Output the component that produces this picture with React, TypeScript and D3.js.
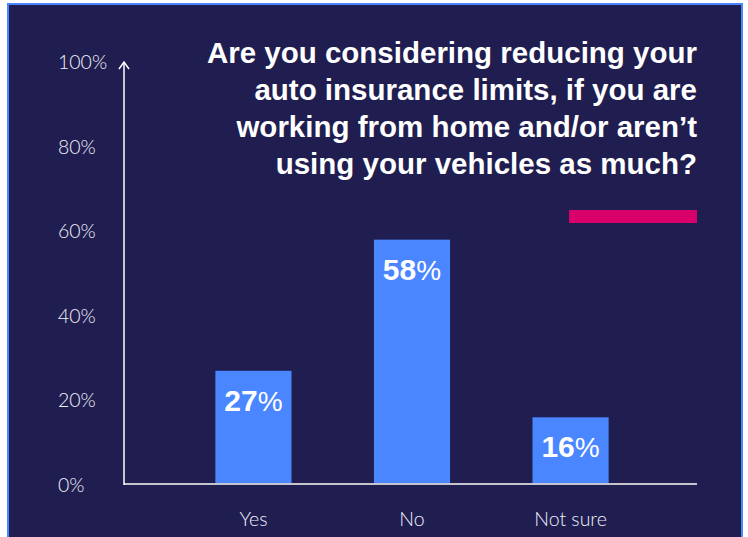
import { useEffect, useRef } from 'react';
import * as d3 from 'd3';

const categories = ['Yes', 'No', 'Not sure'];
const values = [27, 58, 16];
const yTicks = [0, 20, 40, 60, 80, 100];
const titleLines = [
  'Are you considering reducing your',
  'auto insurance limits, if you are',
  'working from home and/or aren\u2019t',
  'using your vehicles as much?',
];

const W = 748;
const H = 537;

const App: React.FC = () => {
  const svgRef = useRef<SVGSVGElement>(null);

  useEffect(() => {
    if (!svgRef.current) return;
    const svg = d3.select(svgRef.current);
    svg.selectAll('*').remove();

    const lightFont = 'Lato, "Open Sans", sans-serif';
    const boldFont = '"Liberation Sans", Arial, sans-serif';

    // frame
    svg.append('rect').attr('width', W).attr('height', H).attr('fill', '#fff');
    svg.append('rect')
      .attr('x', 8).attr('y', 4).attr('width', 734).attr('height', H)
      .attr('fill', '#201e50')
      .attr('stroke', '#4a86ff').attr('stroke-width', 2);

    const x0 = 124, x1 = 697, yBase = 485, yTop = 62;

    const x = d3.scaleBand<string>()
      .domain(categories)
      .range([x0 + 1, x1 + 2])
      .paddingInner(0.52)
      .paddingOuter(0.57);

    const y = d3.scaleLinear().domain([0, 100]).range([yBase, yTop]);

    // y tick labels
    svg.append('g').selectAll('text').data(yTicks).enter().append('text')
      .attr('x', 58)
      .attr('y', d => y(d) + 7)
      .text(d => `${d}%`)
      .style('font-family', lightFont)
      .style('font-weight', 300)
      .style('font-size', '19.5px')
      .style('fill', '#f0f0fa');

    // bars
    svg.append('g').selectAll('rect').data(values).enter().append('rect')
      .attr('x', (_d, i) => x(categories[i])!)
      .attr('y', d => y(d))
      .attr('width', x.bandwidth())
      .attr('height', d => yBase - y(d))
      .attr('fill', '#4a86ff');

    // value labels
    const lbl = svg.append('g').selectAll('text').data(values).enter().append('text')
      .attr('x', (_d, i) => x(categories[i])! + x.bandwidth() / 2)
      .attr('y', d => y(d) + 40)
      .attr('text-anchor', 'middle')
      .style('fill', '#fff')
      .style('font-family', boldFont);
    lbl.append('tspan').text(d => `${d}`)
      .style('font-weight', 700).style('font-size', '30px');
    lbl.append('tspan').text('%')
      .style('font-weight', 400).style('font-size', '28px');

    // axes lines
    svg.append('line')
      .attr('x1', x0).attr('x2', x1).attr('y1', yBase - 1).attr('y2', yBase - 1)
      .attr('stroke', '#c4c4cc').attr('stroke-width', 2);
    svg.append('line')
      .attr('x1', x0).attr('x2', x0).attr('y1', yBase).attr('y2', yTop)
      .attr('stroke', '#fff').attr('stroke-width', 1.5);
    svg.append('path')
      .attr('d', `M${x0 - 5},${yTop + 7}L${x0},${yTop}L${x0 + 5},${yTop + 7}`)
      .attr('fill', 'none').attr('stroke', '#fff').attr('stroke-width', 1.5);

    // category labels
    svg.append('g').selectAll('text').data(categories).enter().append('text')
      .attr('x', d => x(d)! + x.bandwidth() / 2)
      .attr('y', 526)
      .attr('text-anchor', 'middle')
      .text(d => d)
      .style('font-family', lightFont)
      .style('font-weight', 300)
      .style('font-size', '19.5px')
      .style('fill', '#f0f0fa');

    // title
    svg.append('g').selectAll('text').data(titleLines).enter().append('text')
      .attr('x', x1)
      .attr('y', (_d, i) => 63 + i * 37)
      .attr('text-anchor', 'end')
      .text(d => d)
      .style('font-family', boldFont)
      .style('font-weight', 700)
      .style('font-size', '29.5px')
      .style('fill', '#fff');

    // accent bar
    svg.append('rect')
      .attr('x', 569).attr('y', 210).attr('width', x1 - 569).attr('height', 13)
      .attr('fill', '#d9006c');
  }, []);

  return (
    <div>
      <style>{'body{margin:0}'}</style>
      <svg ref={svgRef} width={W} height={H} style={{ display: 'block' }}></svg>
    </div>
  );
};

export default App;
